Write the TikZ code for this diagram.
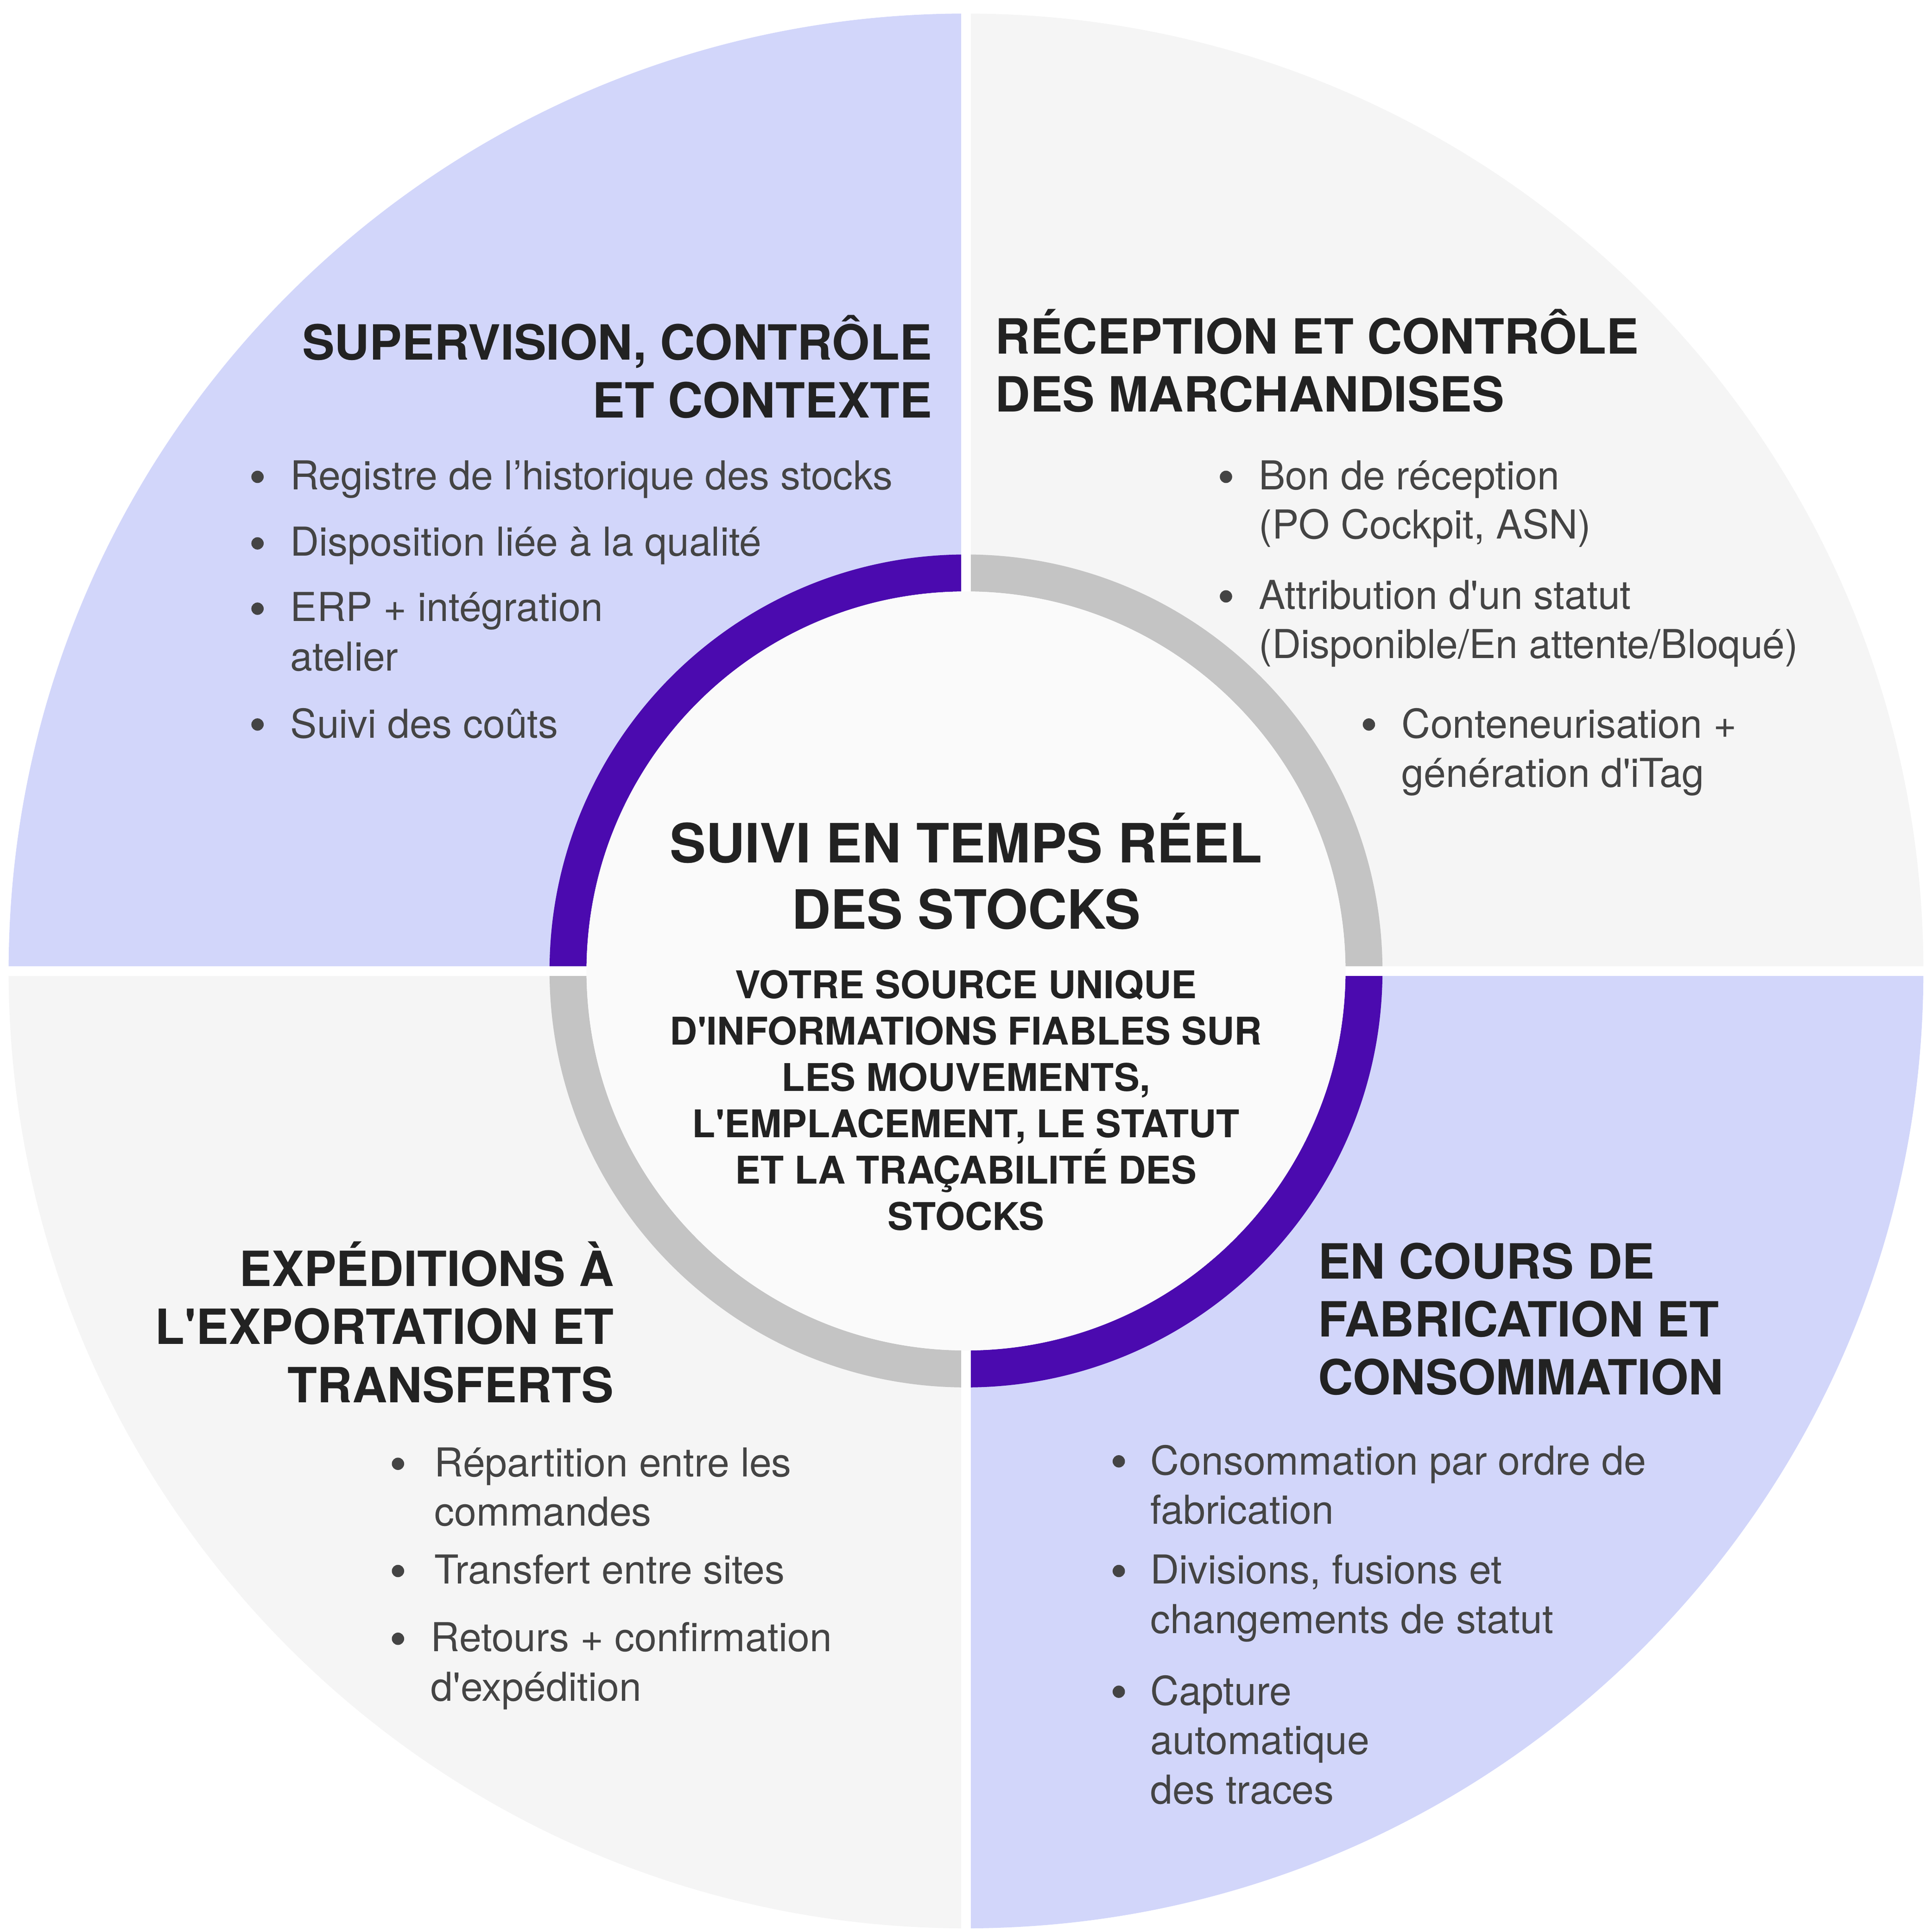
\documentclass[tikz,border=0pt]{standalone}
\usepackage{fontspec}
\setmainfont{TeX Gyre Heros}
\definecolor{lav}{HTML}{D2D6FA}
\definecolor{pale}{HTML}{F5F5F5}
\definecolor{violet}{HTML}{4B0AAF}
\definecolor{ring}{HTML}{C4C4C4}
\definecolor{ink}{HTML}{222222}
\definecolor{txt}{HTML}{444444}
\newcommand{\q}{\textquotesingle}
\tikzset{
  head/.style={font=\fontsize{11.2}{13.4}\selectfont\bfseries, text=ink, align=#1, inner sep=0pt},
  item/.style={font=\fontsize{9.2}{11.4}\selectfont, text=txt, align=left, anchor=north west, inner sep=0pt},
  dot/.style={circle, fill=txt, minimum size=1mm, inner sep=0pt},
}
\begin{document}
\begin{tikzpicture}[x=0.1mm,y=-0.1mm]
\useasboundingbox (0,0) rectangle (1568,1568);
\coordinate (c) at (784,788);
% quadrants
\fill[lav] (c) -- ++(-777,0) arc[start angle=180,end angle=270,radius=777] -- cycle;
\fill[pale] (c) -- ++(0,-777) arc[start angle=270,end angle=360,radius=777] -- cycle;
\fill[lav] (c) -- ++(777,0) arc[start angle=0,end angle=90,radius=777] -- cycle;
\fill[pale] (c) -- ++(0,777) arc[start angle=90,end angle=180,radius=777] -- cycle;
% ring
\fill[violet] (c) ++(-338,0) arc[start angle=180,end angle=270,radius=338] -- ++(0,30) arc[start angle=270,end angle=180,radius=308] -- cycle;
\fill[ring] (c) ++(0,-338) arc[start angle=270,end angle=360,radius=338] -- ++(-30,0) arc[start angle=360,end angle=270,radius=308] -- cycle;
\fill[violet] (c) ++(338,0) arc[start angle=0,end angle=90,radius=338] -- ++(0,-30) arc[start angle=90,end angle=0,radius=308] -- cycle;
\fill[ring] (c) ++(0,338) arc[start angle=90,end angle=180,radius=338] -- ++(30,0) arc[start angle=180,end angle=90,radius=308] -- cycle;
\draw[white,line width=0.8mm] (784,0) -- (784,1568) (0,788) -- (1568,788);
\fill[white!98!black] (c) circle[radius=308];

% centre
\node[font=\fontsize{12.5}{14.8}\selectfont\bfseries, text=ink, align=center, inner sep=0pt] (titre) at (784,707) {SUIVI EN TEMPS RÉEL\\[0.2mm]DES STOCKS};
\node[font=\fontsize{8.8}{10.7}\selectfont\bfseries, text=ink, align=center, inner sep=0pt] (source) at (784,893) {VOTRE SOURCE UNIQUE\\D\q INFORMATIONS FIABLES SUR\\LES MOUVEMENTS,\\L\q EMPLACEMENT, LE STATUT\\ET LA TRAÇABILITÉ DES\\STOCKS};

% supervision
\node[head=right, anchor=north east] (supervision) at (757,255) {SUPERVISION, CONTRÔLE\\ET CONTEXTE};
\node[dot] (s1) at (209,387) {}; \node[item] (s1t) at (235,373) {Registre de l’historique des stocks};
\node[dot] (s2) at (209,441) {}; \node[item] (s2t) at (235,427) {Disposition liée à la qualité};
\node[dot] (s3) at (209,494) {}; \node[item] (s3t) at (235,480) {ERP + intégration\\atelier};
\node[dot] (s4) at (209,588) {}; \node[item] (s4t) at (235,574) {Suivi des coûts};

% reception
\node[head=left, anchor=north west] (reception) at (807,250) {RÉCEPTION ET CONTRÔLE\\DES MARCHANDISES};
\node[dot] (r1) at (995,387) {}; \node[item] (r1t) at (1021,373) {Bon de réception\\(PO Cockpit, ASN)};
\node[dot] (r2) at (995,484) {}; \node[item] (r2t) at (1021,470) {Attribution d\q un statut\\(Disponible/En attente/Bloqué)};
\node[dot] (r3) at (1111,588) {}; \node[item] (r3t) at (1137,574) {Conteneurisation +\\génération d\q iTag};

% expeditions
\node[head=right, anchor=north east] (expeditions) at (499,1007) {EXPÉDITIONS À\\L\q EXPORTATION ET\\TRANSFERTS};
\node[dot] (e1) at (323,1188) {}; \node[item] (e1t) at (352,1174) {Répartition entre les\\commandes};
\node[dot] (e2) at (323,1275) {}; \node[item] (e2t) at (352,1261) {Transfert entre sites};
\node[dot] (e3) at (323,1330) {}; \node[item] (e3t) at (349,1316) {Retours + confirmation\\d\q expédition};

% fabrication
\node[head=left, anchor=north west] (fabrication) at (1069,1008) {EN COURS DE\\FABRICATION ET\\CONSOMMATION};
\node[dot] (f1) at (908,1186) {}; \node[item] (f1t) at (933,1172) {Consommation par ordre de\\fabrication};
\node[dot] (f2) at (908,1275) {}; \node[item] (f2t) at (933,1261) {Divisions, fusions et\\changements de statut};
\node[dot] (f3) at (908,1373) {}; \node[item] (f3t) at (933,1359) {Capture\\automatique\\des traces};
\end{tikzpicture}
\end{document}
